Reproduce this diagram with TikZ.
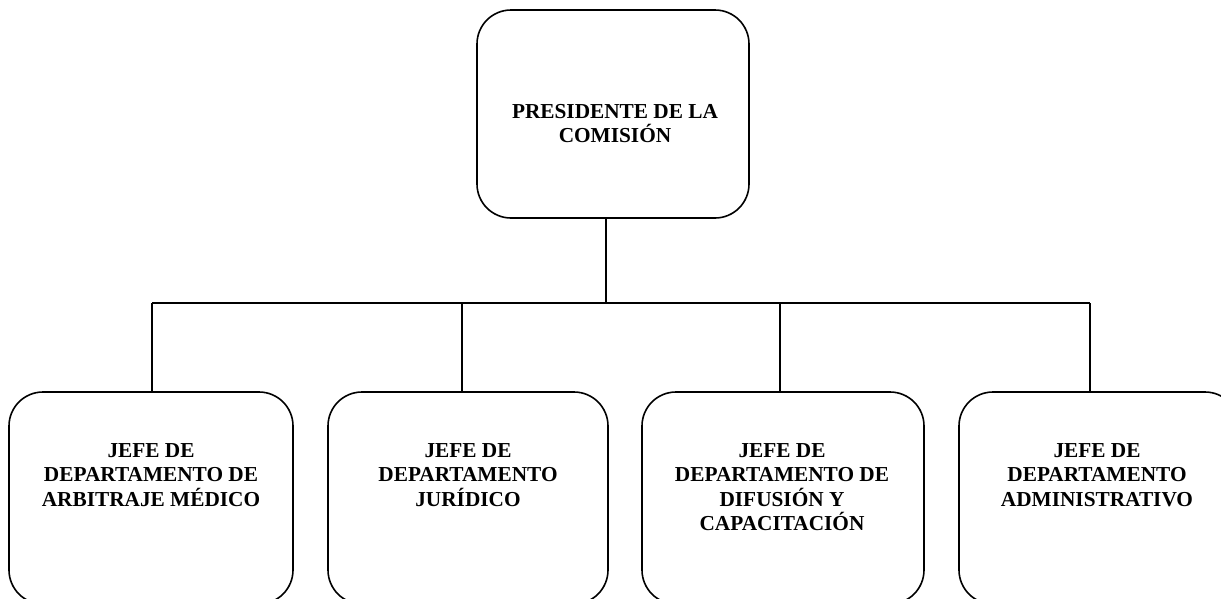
\documentclass[tikz,border=0pt]{standalone}
\usepackage{fontspec}
\setmainfont{Liberation Serif}
\begin{document}
\begin{tikzpicture}[x=1pt,y=-1pt,
  box/.style={draw=black,line width=1.6pt,rounded corners=34pt,minimum width=#1,minimum height=212pt,inner sep=0pt,outer sep=0pt},
  box/.default=282pt,
  txt/.style={anchor=north,align=center,inner sep=0pt,font=\fontsize{21.3}{24.5}\selectfont\bfseries},
  conn/.style={draw=black,line width=1.6pt}]
\useasboundingbox (0,0) rectangle (1221,598);
\node[box=272pt,minimum height=208pt] (top) at (613,114) {};
\node[box=284pt] (b1) at (151,498) {};
\node[box=280pt] (b2) at (468,498) {};
\node[box=282pt] (b3) at (783,498) {};
\node[box=280pt] (b4) at (1099,498) {};
\node[txt] (t0) at (615,104) {PRESIDENTE DE LA\\COMISIÓN};
\node[txt] (t1) at (151,443) {JEFE DE\\DEPARTAMENTO DE\\ARBITRAJE MÉDICO};
\node[txt] (t2) at (468,443) {JEFE DE\\DEPARTAMENTO\\JURÍDICO};
\node[txt] (t3) at (782,443) {JEFE DE\\DEPARTAMENTO DE\\DIFUSIÓN Y\\CAPACITACIÓN};
\node[txt] (t4) at (1097,443) {JEFE DE\\DEPARTAMENTO\\ADMINISTRATIVO};
\coordinate (j0) at (606,303);
\coordinate (c1) at (152,303);
\coordinate (c2) at (462,303);
\coordinate (c3) at (780,303);
\coordinate (c4) at (1090,303);
\draw[conn] (top.south -| j0) -- (j0);
\draw[conn] (c1) -- (c4);
\draw[conn] (c1) -- (b1.north -| c1);
\draw[conn] (c2) -- (b2.north -| c2);
\draw[conn] (c3) -- (b3.north -| c3);
\draw[conn] (c4) -- (b4.north -| c4);
\end{tikzpicture}
\end{document}
